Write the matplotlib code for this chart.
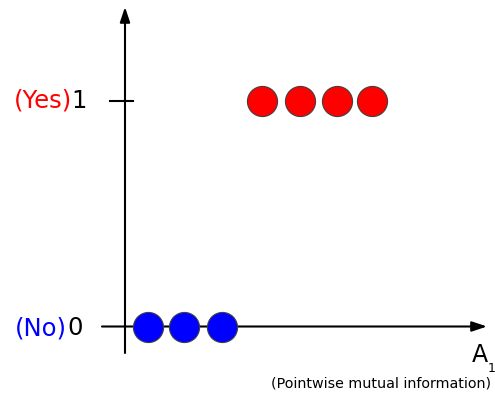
import matplotlib
matplotlib.use("Agg")
import matplotlib.pyplot as plt

# class 0 ("No") and class 1 ("Yes") samples along A1
no_x = [0.63, 1.61, 2.64]
no_y = [0, 0, 0]
yes_x = [3.73, 4.77, 5.77, 6.73]
yes_y = [1, 1, 1, 1]

y_ticks = [0, 1]
y_names = ["(No)", "(Yes)"]
y_colors = ["blue", "red"]

fig = plt.figure(figsize=(4.95, 3.93), dpi=100)
ax = fig.add_axes([0, 0, 1, 1])
ax.set_xlim(-3.406, 10.082)
ax.set_ylim(-0.2949, 1.4479)
ax.axis("off")

arrow = dict(arrowstyle="-|>,head_length=0.6,head_width=0.2", color="black",
             lw=1.5, mutation_scale=15, shrinkA=0, shrinkB=0)
ax.annotate("", xy=(0, 1.417), xytext=(0, -0.1175), arrowprops=arrow)
ax.annotate("", xy=(9.864, 0), xytext=(-0.627, 0), arrowprops=arrow)

# tick mark for class 1
ax.plot([-0.409, 0.218], [1, 1], color="black", lw=1.5)

for yv, name, col in zip(y_ticks, y_names, y_colors):
    base = yv - 0.029 if yv == 1 else yv - 0.0377
    xs = -1.45 if yv == 1 else -1.58
    ax.text(xs, base, name, color=col, fontsize=17.5, ha="right", va="baseline")
    ax.text(xs, base, str(yv), color="black", fontsize=17.5, ha="left", va="baseline")

ax.scatter(no_x, no_y, s=470, color="blue", edgecolors="#404040", linewidths=0.8, zorder=3)
ax.scatter(yes_x, yes_y, s=470, color="red", edgecolors="#404040", linewidths=0.8, zorder=3)

ax.text(9.891, -0.1573, "A", fontsize=17, ha="right", va="baseline")
ax.text(9.891, -0.2017, "1", fontsize=9, ha="left", va="baseline")
ax.text(9.99, -0.2727, "(Pointwise mutual information)", fontsize=10.3,
        ha="right", va="baseline")

fig.savefig("out.png", dpi=100)
